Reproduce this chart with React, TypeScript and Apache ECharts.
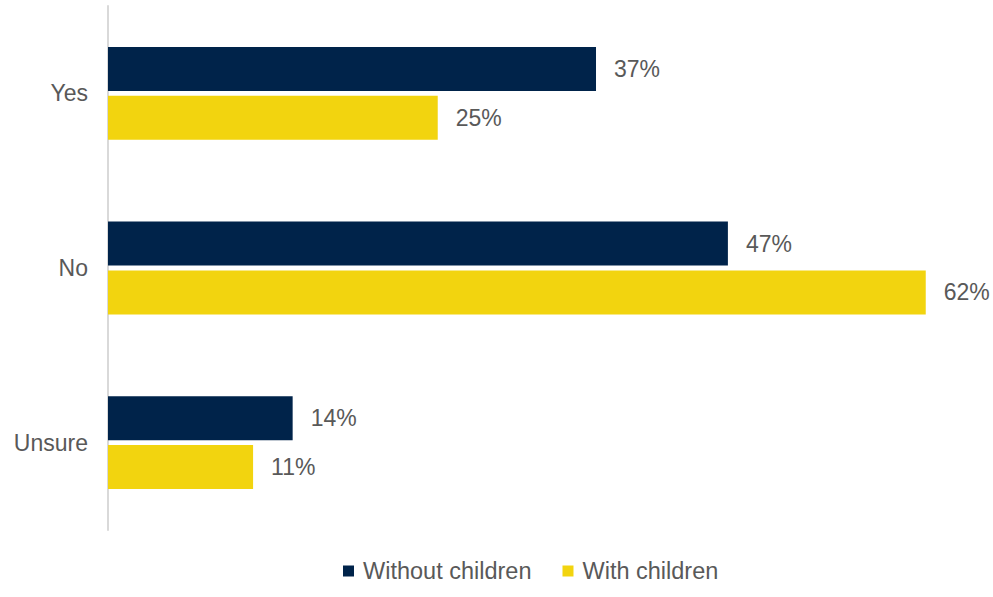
import React, { useEffect, useRef } from "react";
import * as echarts from "echarts";

const categories = ["Yes", "No", "Unsure"];
const withoutChildren = [37, 47, 14];
const withChildren = [25, 62, 11];
const seriesNames = ["Without children", "With children"];

const FONT = "'Liberation Sans', Arial, sans-serif";
const TEXT = "#595959";

export default function App() {
  const ref = useRef<HTMLDivElement>(null);
  useEffect(() => {
    if (!ref.current) return;
    const chart = echarts.init(ref.current, null, { renderer: "svg" });
    const label = {
      show: true,
      position: "right",
      distance: 18,
      color: TEXT,
      fontSize: 23,
      fontFamily: FONT,
      formatter: (p: any) => `${p.value}%`,
    };
    chart.setOption({
      animation: false,
      textStyle: { fontFamily: FONT },
      grid: { left: 108, top: 6, height: 524, width: 870.5, containLabel: false },
      xAxis: {
        type: "value",
        min: 0,
        max: 66,
        show: false,
        splitLine: { show: false },
      },
      yAxis: {
        type: "category",
        data: categories,
        inverse: true,
        axisLine: { show: true, lineStyle: { color: "#D9D9D9", width: 2 } },
        axisTick: { show: false },
        axisLabel: { color: TEXT, fontSize: 23, fontFamily: FONT, margin: 20 },
      },
      legend: {
        data: seriesNames,
        left: 343,
        top: 559,
        padding: 0,
        itemWidth: 11,
        itemHeight: 11,
        itemGap: 31,
        icon: "rect",
        textStyle: {
          color: TEXT,
          fontSize: 23.5,
          fontFamily: FONT,
          lineHeight: 23,
          padding: [0, 0, 0, 4],
        },
      },
      series: [
        {
          name: seriesNames[0],
          type: "bar",
          data: withoutChildren,
          barWidth: 44,
          barGap: "11%",
          itemStyle: { color: "#00234A" },
          label,
        },
        {
          name: seriesNames[1],
          type: "bar",
          data: withChildren,
          barWidth: 44,
          barGap: "11%",
          itemStyle: { color: "#F2D40F" },
          label,
        },
      ],
    });
    return () => chart.dispose();
  }, []);
  return (
    <div
      ref={ref}
      style={{ position: "fixed", left: 0, top: 0, width: 993, height: 597, background: "#fff" }}
    />
  );
}
